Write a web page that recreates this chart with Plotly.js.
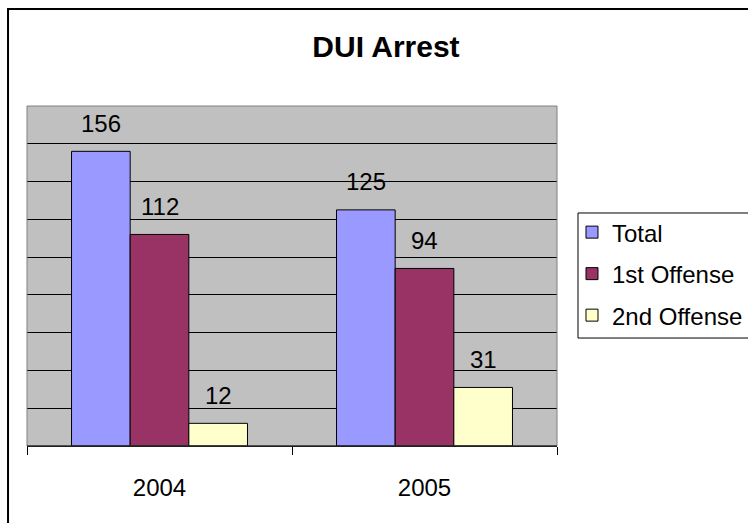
<!DOCTYPE html>
<html>
<head>
<meta charset="utf-8">
<script src="https://cdn.plot.ly/plotly-3.0.1.min.js"></script>
<style>
  html, body { margin: 0; padding: 0; background: #ffffff; }
  #chart { width: 748px; height: 523px; }
</style>
</head>
<body>
<div id="chart"></div>
<script>
// ---- data ----
const categories = ['2004', '2005'];
const seriesNames = ['Total', '1st Offense', '2nd Offense'];
const totalValues = [156, 125];
const firstOffenseValues = [112, 94];
const secondOffenseValues = [12, 31];
const seriesColors = ['#9999FF', '#993366', '#FFFFCC'];
const chartTitle = 'DUI Arrest';

const allValues = [totalValues, firstOffenseValues, secondOffenseValues];
const FONT = 'Arial, "Liberation Sans", sans-serif';

const traces = allValues.map((vals, i) => ({
  type: 'bar',
  name: seriesNames[i],
  x: categories,
  y: vals,
  legendgroup: 'g' + i,
  marker: { color: seriesColors[i], line: { color: '#000000', width: 1 } },
  hoverinfo: 'x+y+name'
}));

// data labels above each bar (x given as category index)
const barShift = 58.7;
const annotations = [];
allValues.forEach((vals, i) => {
  vals.forEach((v, j) => {
    annotations.push({
      x: j, y: v, xref: 'x', yref: 'y',
      text: String(v), showarrow: false,
      xshift: (i - 1) * barShift, yshift: 28,
      yanchor: 'middle', xanchor: 'center',
      font: { family: FONT, size: 24, color: '#000000' }
    });
  });
});

const shapes = [
  { type: 'rect', xref: 'paper', yref: 'paper', x0: -0.0358, x1: 1.6, y0: -0.6, y1: 1.2853,
    line: { color: '#000000', width: 2 }, layer: 'above' },
  { type: 'rect', xref: 'paper', yref: 'paper', x0: 0, x1: 1, y0: 0, y1: 1,
    line: { color: '#808080', width: 1 }, layer: 'above' },
  { type: 'line', xref: 'paper', yref: 'paper', x0: 0, x1: 1, y0: 0, y1: 0,
    line: { color: '#000000', width: 1 }, layer: 'above' },
  { type: 'rect', xref: 'paper', yref: 'paper', x0: 1.0396, x1: 1.6, y0: 0.3176, y1: 0.6853,
    line: { color: '#000000', width: 1 }, layer: 'above' }
];

const layout = {
  width: 748, height: 523,
  margin: { l: 27, r: 191, t: 106, b: 77, autoexpand: false },
  paper_bgcolor: '#ffffff',
  plot_bgcolor: '#C0C0C0',
  font: { family: FONT, size: 24, color: '#000000' },
  title: {
    text: chartTitle,
    font: { family: FONT, size: 30, weight: 'bold', color: '#000000' },
    xref: 'container', yref: 'container',
    x: 0.516, y: 0.912, xanchor: 'center', yanchor: 'middle'
  },
  barmode: 'group',
  bargap: 0.336,
  bargroupgap: 0,
  xaxis: {
    type: 'category',
    categoryorder: 'array', categoryarray: categories,
    range: [-0.5, categories.length - 0.5],
    autorange: false,
    showgrid: false,
    showline: true, linecolor: '#000000', linewidth: 1,
    ticks: 'outside', ticklen: 8, tickcolor: '#000000', tickwidth: 1,
    tickson: 'boundaries',
    tickangle: 0,
    ticklabelstandoff: 20,
    tickfont: { family: FONT, size: 24, color: '#000000' },
    fixedrange: true
  },
  yaxis: {
    range: [0, 180], autorange: false, dtick: 20, tick0: 0,
    showgrid: true, gridcolor: '#000000', gridwidth: 1,
    showticklabels: false, ticks: '',
    zeroline: false, showline: false,
    fixedrange: true
  },
  showlegend: true,
  legend: {
    x: 1.0283, y: 0.694, xanchor: 'left', yanchor: 'top',
    xref: 'paper', yref: 'paper',
    bgcolor: 'rgba(0,0,0,0)', borderwidth: 0,
    font: { family: FONT, size: 24, color: '#000000' },
    tracegroupgap: 7.3,
    traceorder: 'grouped'
  },
  annotations: annotations,
  shapes: shapes
};

Plotly.newPlot('chart', traces, layout, { displayModeBar: false, staticPlot: true });
</script>
</body>
</html>
